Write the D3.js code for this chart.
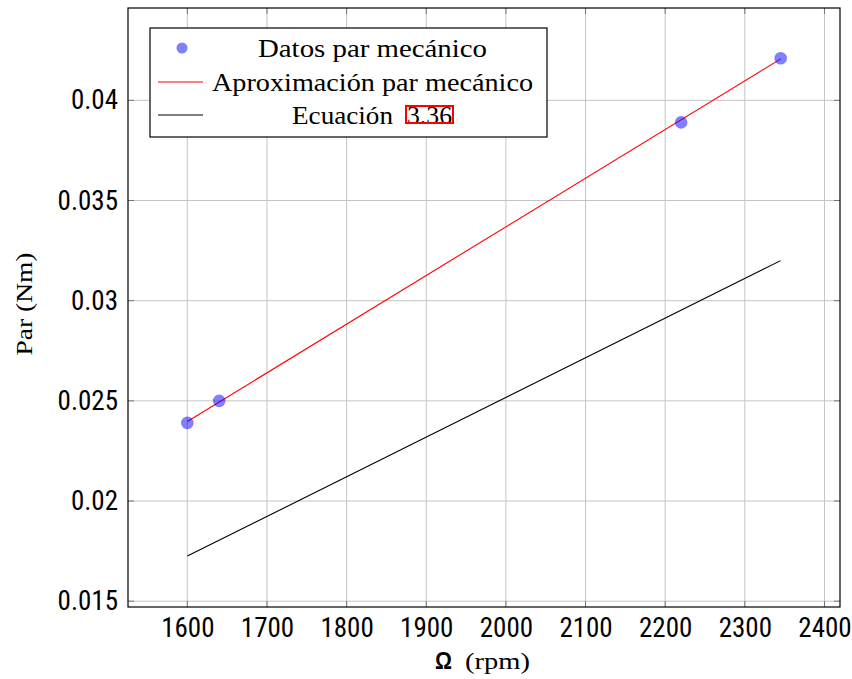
<!DOCTYPE html>
<html>
<head>
<meta charset="utf-8">
<script src="https://cdn.jsdelivr.net/npm/d3@7"></script>
<style>
  body { margin: 0; background: #fff; }
  .tick-lbl { font-family: "Liberation Sans Narrow", "Roboto Condensed", "Liberation Sans", sans-serif; font-size: 27px; fill: #000; }
  .serif { font-family: "Liberation Serif", "DejaVu Serif", serif; fill: #000; }
</style>
</head>
<body>
<svg class="canvas" width="852" height="679"></svg>
<script>
// measured data (rpm, Nm)
const rpm = [1600, 1640, 2220, 2345];
const torque = [0.0239, 0.0250, 0.0389, 0.0421];
// linear fit of the data
const fitX = [1600, 2345];
const fitY = [0.02397, 0.04207];
// equation 3.36
const eqX = [1600, 2345];
const eqY = [0.01725, 0.0320];
const xTicks = [1600, 1700, 1800, 1900, 2000, 2100, 2200, 2300, 2400];
const yTicks = [0.015, 0.02, 0.025, 0.03, 0.035, 0.04];
const yTickLabels = ['0.015', '0.02', '0.025', '0.03', '0.035', '0.04'];
const legendLabels = ['Datos par mecánico', 'Aproximación par mecánico', 'Ecuación'];

const svg = d3.select('.canvas');
const pL = 128, pR = 840, pT = 8, pB = 607;

const xScale = d3.scaleLinear().domain([1525.5, 2419.5]).range([pL, pR]);
const yScale = d3.scaleLinear().domain([0.01471, 0.04461]).range([pB, pT]);

// grid
const grid = svg.append('g');
xTicks.forEach((t) => {
    grid.append('line')
        .attr('x1', xScale(t)).attr('x2', xScale(t))
        .attr('y1', pT).attr('y2', pB)
        .attr('stroke', '#c4c4c4').attr('stroke-width', 1);
});
yTicks.forEach((t) => {
    grid.append('line')
        .attr('x1', pL).attr('x2', pR)
        .attr('y1', yScale(t)).attr('y2', yScale(t))
        .attr('stroke', '#c4c4c4').attr('stroke-width', 1);
});

// inward tick marks on all four sides
const tk = svg.append('g').attr('stroke', '#777').attr('stroke-width', 1);
xTicks.forEach((t) => {
    tk.append('line').attr('x1', xScale(t)).attr('x2', xScale(t)).attr('y1', pB).attr('y2', pB - 6);
    tk.append('line').attr('x1', xScale(t)).attr('x2', xScale(t)).attr('y1', pT).attr('y2', pT + 6);
});
yTicks.forEach((t) => {
    tk.append('line').attr('x1', pL).attr('x2', pL + 6).attr('y1', yScale(t)).attr('y2', yScale(t));
    tk.append('line').attr('x1', pR).attr('x2', pR - 6).attr('y1', yScale(t)).attr('y2', yScale(t));
});

// tick labels via d3 axes (no tick lines, only text)
const xAxis = d3.axisBottom(xScale).tickValues(xTicks).tickSize(0).tickPadding(11).tickFormat((d) => d);
const xg = svg.append('g').attr('transform', `translate(0, ${pB})`).call(xAxis);
xg.select('.domain').remove();
xg.selectAll('text').attr('class', 'tick-lbl');
xg.attr('font-size', null).attr('font-family', null);

const yAxis = d3.axisLeft(yScale).tickValues(yTicks).tickSize(0).tickPadding(10)
    .tickFormat((d, i) => yTickLabels[i]);
const yg = svg.append('g').attr('transform', `translate(${pL}, 0)`).call(yAxis);
yg.select('.domain').remove();
yg.selectAll('text').attr('class', 'tick-lbl');
yg.attr('font-size', null).attr('font-family', null);

const line = d3.line().x((d) => xScale(d[0])).y((d) => yScale(d[1]));

// equation line
svg.append('path')
    .datum(eqX.map((x, i) => [x, eqY[i]]))
    .attr('d', line).attr('fill', 'none').attr('stroke', '#000').attr('stroke-width', 1.1);

// fit line
svg.append('path')
    .datum(fitX.map((x, i) => [x, fitY[i]]))
    .attr('d', line).attr('fill', 'none').attr('stroke', '#ff0000').attr('stroke-width', 1.1);

// data points
svg.selectAll('circle.pt')
    .data(rpm.map((x, i) => [x, torque[i]]))
    .enter()
    .append('circle')
    .attr('class', 'pt')
    .attr('cx', (d) => xScale(d[0]))
    .attr('cy', (d) => yScale(d[1]))
    .attr('r', 6.3)
    .attr('fill', '#0000ff').attr('fill-opacity', 0.5);

// frame
svg.append('rect')
    .attr('x', pL).attr('y', pT).attr('width', pR - pL).attr('height', pB - pT)
    .attr('fill', 'none').attr('stroke', '#000').attr('stroke-width', 1.2);

// axis titles
svg.append('text')
    .attr('x', 435).attr('y', 669)
    .style('font-family', '"Liberation Sans", sans-serif')
    .style('font-size', '23px')
    .style('font-weight', 'bold')
    .attr('textLength', 17).attr('lengthAdjust', 'spacingAndGlyphs')
    .text('Ω');
svg.append('text')
    .attr('class', 'serif')
    .attr('x', 465).attr('y', 669)
    .style('font-size', '24px')
    .attr('textLength', 65).attr('lengthAdjust', 'spacingAndGlyphs')
    .text('(rpm)');

svg.append('text')
    .attr('class', 'serif')
    .attr('transform', 'translate(32, 304) rotate(-90)')
    .attr('text-anchor', 'middle')
    .style('font-size', '24px')
    .attr('textLength', 103).attr('lengthAdjust', 'spacingAndGlyphs')
    .text('Par (Nm)');

// legend
const lg = svg.append('g');
lg.append('rect')
    .attr('x', 150).attr('y', 28).attr('width', 397).attr('height', 109)
    .attr('fill', '#fff').attr('stroke', '#000').attr('stroke-width', 1.2);
const rowY = [48, 82, 115];
const rowX = [258, 212, 292];
const rowW = [229, 321, 101];
lg.append('circle').attr('cx', 182).attr('cy', rowY[0]).attr('r', 5.5)
    .attr('fill', '#0000ff').attr('fill-opacity', 0.5);
lg.append('line').attr('x1', 158).attr('x2', 203).attr('y1', rowY[1]).attr('y2', rowY[1])
    .attr('stroke', '#ff0000').attr('stroke-width', 1.1);
lg.append('line').attr('x1', 158).attr('x2', 203).attr('y1', rowY[2]).attr('y2', rowY[2])
    .attr('stroke', '#000').attr('stroke-width', 1.1);
legendLabels.forEach((lbl, i) => {
    lg.append('text')
        .attr('class', 'serif')
        .attr('x', rowX[i]).attr('y', rowY[i] + 9)
        .style('font-size', '25px')
        .attr('textLength', rowW[i]).attr('lengthAdjust', 'spacingAndGlyphs')
        .text(lbl);
});
lg.append('text')
    .attr('class', 'serif')
    .attr('x', 407).attr('y', rowY[2] + 9)
    .style('font-size', '25px')
    .attr('textLength', 45).attr('lengthAdjust', 'spacingAndGlyphs')
    .text('3.36');
lg.append('rect')
    .attr('x', 406).attr('y', 106).attr('width', 47).attr('height', 17)
    .attr('fill', 'none').attr('stroke', '#ff0000').attr('stroke-width', 2);
</script>
</body>
</html>
